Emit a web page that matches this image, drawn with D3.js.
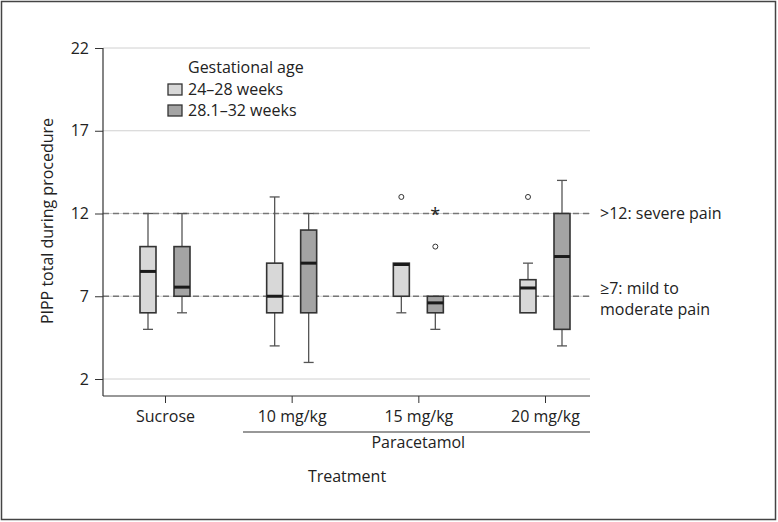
<!DOCTYPE html>
<html><head><meta charset="utf-8">
<script src="https://cdn.jsdelivr.net/npm/d3@7"></script>
<style>body{margin:0;background:#fff}text{font-family:"Open Sans",sans-serif;fill:#222}</style>
</head><body><svg id="c" width="778" height="522"></svg>
<script>
const categories = ["Sucrose","10 mg/kg","15 mg/kg","20 mg/kg"];
const groups = ["24–28 weeks","28.1–32 weeks"];
// per group, per category
const mins    = [[5,4,6,6],[6,3,5,4]];
const q1s     = [[6,6,7,6],[7,6,6,5]];
const medians = [[8.5,7,8.92,7.5],[7.55,9,6.6,9.4]];
const q3s     = [[10,9,9,8],[10,11,7,12]];
const maxs    = [[12,13,9,9],[12,12,7,14]];
const circleOutliers = [[[],[],[13],[13]],[[],[],[10],[]]];
const starOutliers   = [[[],[],[],[]],[[],[],[12],[]]];
const yTicks = [2,7,12,17,22];
const refLines = [12,7];
const refLabels = [[">12: severe pain"],["≥7: mild to","moderate pain"]];
const fills = ["#d8d8d8","#a4a4a4"];

const FS = 16;
const svg = d3.select("#c");
svg.append("rect").attr("x",1.5).attr("y",1.5).attr("width",774).attr("height",518)
  .attr("fill","none").attr("stroke","#444").attr("stroke-width",1.5);

const x0 = 103, x1 = 590;
const y = d3.scaleLinear().domain([2,22]).range([379,48]);
const x = d3.scalePoint().domain(categories).range([165,545]);
const off = d3.scalePoint().domain(groups).range([-17,17]);
const bw = 16;

// gridlines
svg.append("g").selectAll("line").data(yTicks).join("line")
  .attr("x1",x0).attr("x2",x1).attr("y1",d=>y(d)).attr("y2",d=>y(d))
  .attr("stroke","#d0d0d0").attr("stroke-width",1);
// reference dashed lines
svg.append("g").selectAll("line").data(refLines).join("line")
  .attr("x1",x0).attr("x2",x1).attr("y1",d=>y(d)).attr("y2",d=>y(d))
  .attr("stroke","#777").attr("stroke-width",1.3).attr("stroke-dasharray","6,4");

// axes
const yAxis = d3.axisLeft(y).tickValues(yTicks).tickSize(8).tickPadding(6);
const gy = svg.append("g").attr("transform",`translate(${x0},0)`).call(yAxis);
gy.select(".domain").remove();
gy.selectAll(".tick line").attr("stroke","#333");
gy.selectAll(".tick text").attr("font-size",FS).attr("fill","#222").attr("font-family","'Open Sans',sans-serif");
svg.append("line").attr("x1",x0).attr("x2",x0).attr("y1",y(22)).attr("y2",396).attr("stroke","#333").attr("stroke-width",1.2);
svg.append("line").attr("x1",x0).attr("x2",x1).attr("y1",396).attr("y2",396).attr("stroke","#333").attr("stroke-width",1.2);
const xAxis = d3.axisBottom(x).tickSize(7).tickPadding(8);
const gx = svg.append("g").attr("transform","translate(0,396)").call(xAxis);
gx.select(".domain").remove();
gx.selectAll(".tick line").attr("stroke","#333");
gx.selectAll(".tick text").attr("font-size",FS).attr("fill","#222").attr("font-family","'Open Sans',sans-serif");

// paracetamol bracket
svg.append("line").attr("x1",243).attr("x2",x1).attr("y1",432).attr("y2",432).attr("stroke","#333").attr("stroke-width",1.2);
svg.append("text").attr("x",x("15 mg/kg")).attr("y",448).attr("text-anchor","middle").attr("font-size",FS).text("Paracetamol");
svg.append("text").attr("x",347).attr("y",482).attr("text-anchor","middle").attr("font-size",FS).text("Treatment");
svg.append("text").attr("transform","translate(53,221) rotate(-90)").attr("text-anchor","middle").attr("font-size",FS).text("PIPP total during procedure");

// boxes
groups.forEach((g,gi)=>{
  categories.forEach((c,ci)=>{
    const cx = x(c)+off(g);
    const G = svg.append("g");
    const wc = "#555";
    if (maxs[gi][ci] > q3s[gi][ci]) {
      G.append("line").attr("x1",cx).attr("x2",cx).attr("y1",y(maxs[gi][ci])).attr("y2",y(q3s[gi][ci])).attr("stroke",wc).attr("stroke-width",1.3);
      G.append("line").attr("x1",cx-5).attr("x2",cx+5).attr("y1",y(maxs[gi][ci])).attr("y2",y(maxs[gi][ci])).attr("stroke",wc).attr("stroke-width",1.3);
    }
    if (mins[gi][ci] < q1s[gi][ci]) {
      G.append("line").attr("x1",cx).attr("x2",cx).attr("y1",y(q1s[gi][ci])).attr("y2",y(mins[gi][ci])).attr("stroke",wc).attr("stroke-width",1.3);
      G.append("line").attr("x1",cx-5).attr("x2",cx+5).attr("y1",y(mins[gi][ci])).attr("y2",y(mins[gi][ci])).attr("stroke",wc).attr("stroke-width",1.3);
    }
    G.append("rect").attr("x",cx-bw/2).attr("width",bw)
      .attr("y",y(q3s[gi][ci])).attr("height",y(q1s[gi][ci])-y(q3s[gi][ci]))
      .attr("fill",fills[gi]).attr("stroke","#333").attr("stroke-width",1.6);
    G.append("line").attr("x1",cx-bw/2).attr("x2",cx+bw/2).attr("y1",y(medians[gi][ci])).attr("y2",y(medians[gi][ci]))
      .attr("stroke","#1a1a1a").attr("stroke-width",3);
    circleOutliers[gi][ci].forEach(v=>{
      G.append("circle").attr("cx",cx).attr("cy",y(v)).attr("r",2.5).attr("fill","none").attr("stroke","#333").attr("stroke-width",1);
    });
    starOutliers[gi][ci].forEach(v=>{
      G.append("text").attr("x",cx).attr("y",y(v)+7).attr("text-anchor","middle").attr("font-size",18).attr("fill","#333").text("*");
    });
  });
});

// reference labels
refLines.forEach((r,i)=>{
  const lines = refLabels[i];
  lines.forEach((t,j)=>{
    svg.append("text").attr("x",600).attr("y",y(r)+5 - (lines.length>1?7:0) + j*21).attr("font-size",FS).text(t);
  });
});

// legend
svg.append("text").attr("x",188).attr("y",73).attr("font-size",FS).text("Gestational age");
groups.forEach((g,i)=>{
  svg.append("rect").attr("x",168).attr("y",84+i*21).attr("width",14).attr("height",11)
    .attr("fill",fills[i]).attr("stroke","#333").attr("stroke-width",1.3);
  svg.append("text").attr("x",188).attr("y",95+i*21).attr("font-size",FS).text(g);
});
</script></body></html>
